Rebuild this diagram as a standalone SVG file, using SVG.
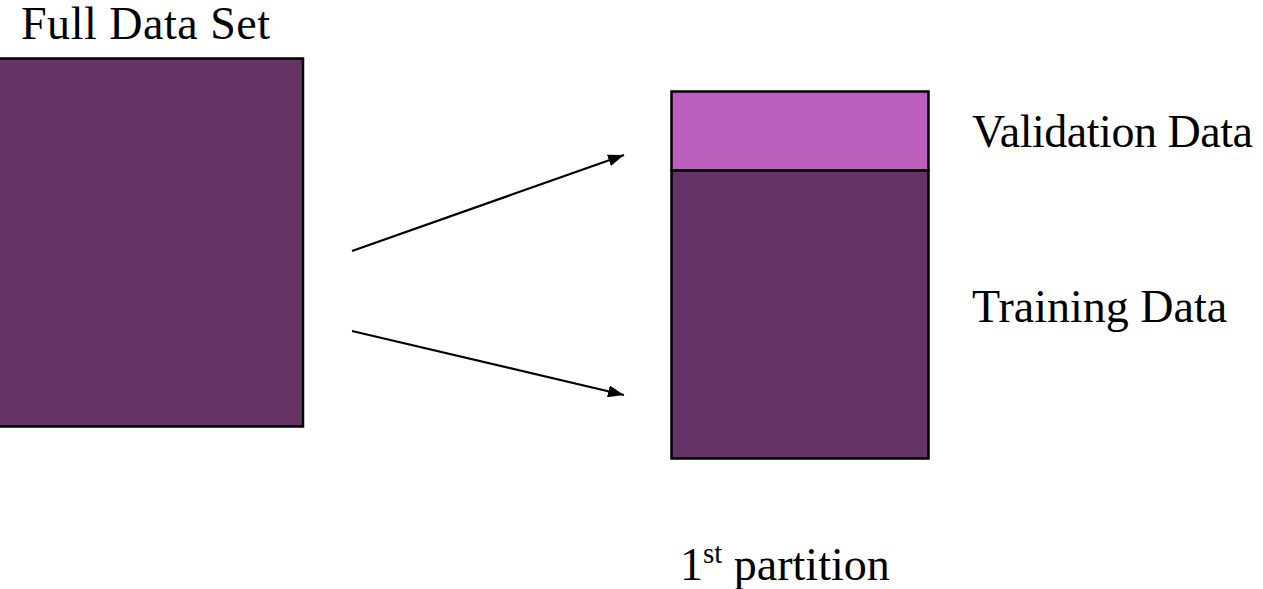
<svg xmlns="http://www.w3.org/2000/svg" width="1263" height="589" viewBox="0 0 1263 589">
<defs>
<style>
.lbl{font-family:"Liberation Serif","Times New Roman",serif;font-size:46px;fill:#000}
.box{stroke:#000;stroke-width:2.5}
.dark{fill:#663366}
.light{fill:#BC5EBC}
.conn{stroke:#000;stroke-width:2.2;fill:none}
</style>
<marker id="arr" viewBox="0 0 16 12" refX="16" refY="6" markerWidth="16" markerHeight="12" markerUnits="userSpaceOnUse" orient="auto">
<path d="M0,0 L16,6 L0,12 z" fill="#000"/>
</marker>
</defs>
<rect width="1263" height="589" fill="#fff"/>
<g id="full-data-set">
<rect class="box dark" x="-2" y="58.5" width="305" height="368"/>
<text class="lbl" x="21" y="38.5" font-size="43" textLength="249" lengthAdjust="spacing">Full Data Set</text>
</g>
<g id="validation-data">
<rect class="box light" x="671.5" y="91.5" width="257" height="79"/>
<text class="lbl" x="972" y="147" textLength="281" lengthAdjust="spacing">Validation Data</text>
</g>
<g id="training-data">
<rect class="box dark" x="671.5" y="170.5" width="257" height="288"/>
<text class="lbl" x="972" y="322">Training Data</text>
</g>
<g id="partition-label">
<text class="lbl" x="680" y="580">1<tspan font-size="29" dy="-17">st</tspan><tspan dy="17"> partition</tspan></text>
</g>
<g id="connectors">
<line class="conn" x1="352" y1="251" x2="624" y2="155" marker-end="url(#arr)"/>
<line class="conn" x1="352" y1="331" x2="624" y2="395" marker-end="url(#arr)"/>
</g>
</svg>
